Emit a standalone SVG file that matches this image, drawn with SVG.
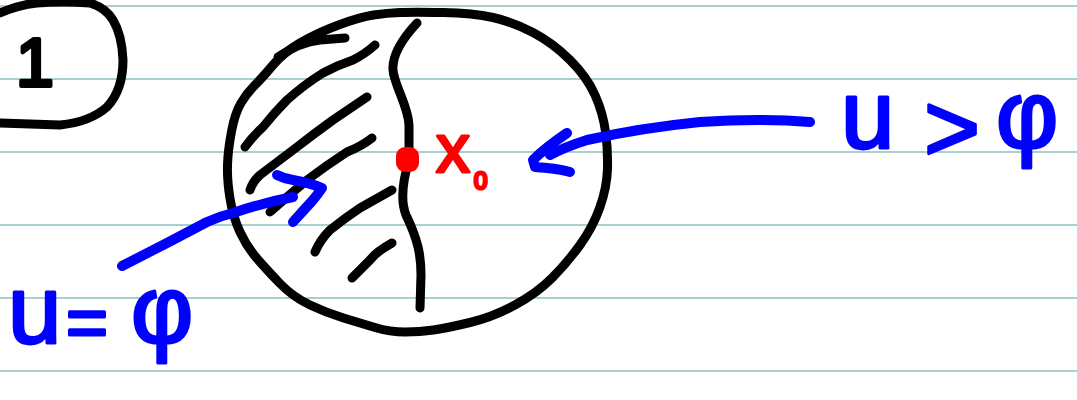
<svg xmlns="http://www.w3.org/2000/svg" width="1077" height="400" viewBox="0 0 1077 400">
<style>
.rule{stroke:#a9d0d0;stroke-width:2;fill:none}
.ink{fill:none;stroke:#000;stroke-width:9;stroke-linecap:round;stroke-linejoin:round}
.blue{fill:none;stroke:#0000ff;stroke-width:10;stroke-linecap:round;stroke-linejoin:round}
.bt{font-family:"Liberation Sans",Arial,sans-serif;font-size:96px;fill:#0000ff;stroke:#0000ff;stroke-width:3;stroke-linejoin:round}
.rt{font-family:"Liberation Sans",Arial,sans-serif;fill:#ff0000;stroke:#ff0000;stroke-width:3;stroke-linejoin:round}
</style>
<rect width="1077" height="400" fill="#ffffff"/>
<g id="rules">
<line class="rule" x1="0" y1="6" x2="1077" y2="6"/>
<line class="rule" x1="0" y1="79" x2="1077" y2="79"/>
<line class="rule" x1="0" y1="152" x2="1077" y2="152"/>
<line class="rule" x1="0" y1="225" x2="1077" y2="225"/>
<line class="rule" x1="0" y1="298" x2="1077" y2="298"/>
<line class="rule" x1="0" y1="371" x2="1077" y2="371"/>
</g>
<g id="label-1">
<path class="ink" d="M0,13 Q18,5 37,3 Q62,1 90,3 Q106,8 113,20 Q122,35 123,60 Q123,90 107,107 Q90,122 60,125 L0,123"/>
<text x="35" y="86" text-anchor="middle" font-family="Liberation Sans, sans-serif" font-size="68" fill="#000" stroke="#000" stroke-width="4" stroke-linejoin="round">1</text>
</g>
<g id="domain">
<path class="ink" d="M443,12.5 Q473,13 493,17.5 Q513,22 533,32.5 Q553,43 570,60 Q587,77 595,95 Q603,113 605.5,131.5 Q608,150 607.5,168.5 Q607,187 600,207 Q593,227 580,245 Q567,263 552,278 Q537,293 515,305 Q493,317 470,322.5 Q447,328 433.5,330 Q420,332 405,332 Q390,332 375,327.5 Q360,323 343.5,318 Q327,313 310,305 Q293,297 280,283.5 Q267,270 257,258.5 Q247,247 240,232 Q233,217 230,198.5 Q227,180 227.5,165 Q228,150 231.5,131.5 Q235,113 241,103 Q247,93 255,85 Q263,77 273,65 Q283,53 300,43 Q317,33 338.5,25 Q360,17 373.5,15 Q387,13 400,12.5 Q413,12 443,12.5 Z"/>
<path class="ink" d="M417,23 C403,38 392,55 393,70 C394,85 408,105 409,125 L409,160 C403,180 400,200 406,215 C418,240 421,255 421,275 L420,308"/>
<g id="hatching">
<path class="ink" d="M278,57 Q300,42 320,40 L345,38"/>
<path class="ink" d="M245,147 Q252,137 263,127 Q275,112 287,100 Q305,84 323,73 Q338,65 353,60 Q365,54 375,45"/>
<path class="ink" d="M250,190 Q253,181 260,175 L297,147 Q315,133 333,120 L367,97"/>
<path class="ink" d="M270,212 Q288,196 307,180 Q327,165 347,152 Q362,146 372,138"/>
<path class="ink" d="M315,252 Q320,240 330,230 Q345,218 360,208 L392,190"/>
<path class="ink" d="M352,278 L370,260 Q376,252 392,243"/>
</g>
</g>
<g id="point-x0">
<rect x="396" y="147" width="23" height="25" rx="9" fill="#ff0000"/>
<text class="rt" x="436" y="172" font-size="68">x<tspan x="474" y="189" font-size="24">0</tspan></text>
</g>
<g id="connectors">
<path class="blue" d="M810,122 Q760,118 700,122 Q640,128 587,140 Q565,147 550,155"/>
<path class="blue" d="M567,133 Q545,148 533,160 L535,167 Q555,168 570,172"/>
<path class="blue" d="M122,266 L167,243 Q190,231 207,222 Q220,216 233,213 Q262,203 293,197"/>
<path class="blue" d="M277,175 Q285,179 293,180 Q310,183 322,188 Q318,194 313,200 Q302,212 293,222"/>
</g>
<g id="label-u-gt-phi">
<text class="bt" x="841" y="148">u</text>
<text class="bt" x="924" y="161">&gt;</text>
<text class="bt" x="996" y="148">φ</text>
</g>
<g id="label-u-eq-phi">
<text class="bt" x="8" y="343">u</text>
<text class="bt" x="66" y="347" style="font-size:72px">=</text>
<text class="bt" x="131" y="343">φ</text>
</g>
</svg>
